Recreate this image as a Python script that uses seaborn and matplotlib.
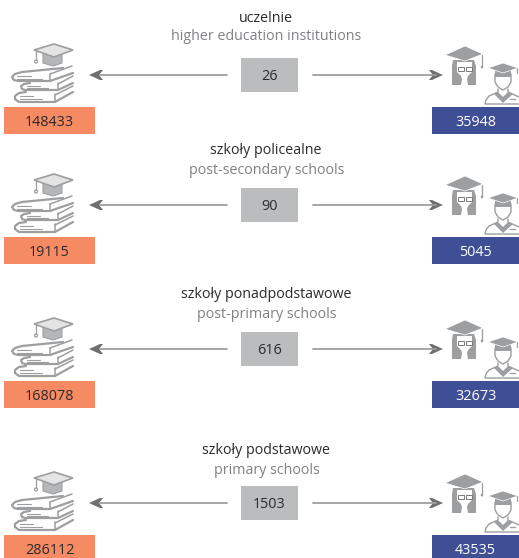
import matplotlib
matplotlib.use("Agg")
import matplotlib.pyplot as plt
from matplotlib.patches import Rectangle, Polygon, Ellipse
import pandas as pd
import seaborn as sns

# values
names_pl = ["uczelnie", "szkoły policealne", "szkoły ponadpodstawowe", "szkoły podstawowe"]
names_en = ["higher education institutions", "post-secondary schools", "post-primary schools", "primary schools"]
schools = [26, 90, 616, 1503]
students = [148433, 19115, 168078, 286112]
teachers = [35948, 5045, 32673, 43535]

# layout in pixels
row_y = [75, 205, 349, 503]
title_y = [19, 151, 295, 450]
sub_y = [37, 170, 315, 470]

ORANGE = "#f58a63"
BLUE = "#3f4f95"
BOX = "#bbbcbe"
ICON = "#9d9ea0"
ARROW = "#9d9ea0"
HEAD = "#6f7072"

sns.set_theme(style="white")
plt.rcParams["font.family"] = ["Open Sans", "DejaVu Sans"]

fig, ax = plt.subplots(figsize=(5.19, 5.58), dpi=100)
fig.subplots_adjust(0, 0, 1, 1)
ax.set_xlim(0, 519)
ax.set_ylim(558, 0)
ax.axis("off")


def shape(pts, y0, **kw):
    ax.add_patch(Polygon([(x, y + y0) for x, y in pts], **kw))


def path(pts, y0, lw=1.6):
    ax.plot([p[0] for p in pts], [p[1] + y0 for p in pts], color=ICON, lw=lw,
            solid_capstyle="round", solid_joinstyle="round")


def books(y0):
    shape([(43, 53), (62, 53), (62, 63), (53, 66), (43, 63)], y0, fc="#b5b6b8", ec=ICON, lw=0.8)
    shape([(34, 50), (54, 44), (73, 50), (54, 57)], y0, fc="#e4e4e5", ec=ICON, lw=1.2)
    path([(36, 51), (36, 60)], y0, 0.9)
    ax.add_patch(Ellipse((36, 61.5 + y0), 3, 3, fc="white", ec=ICON, lw=0.9))
    # top book
    path([(63, 68), (22, 72), (15, 74), (12, 77), (14, 80), (18, 81), (50, 81), (73, 73)], y0)
    path([(50, 74), (50, 81)], y0, 1.1)
    path([(50, 74), (72, 66)], y0, 1.1)
    path([(17, 76), (31, 76)], y0, 0.8)
    path([(17, 79), (42, 79)], y0, 0.8)
    # middle book
    path([(58, 84), (73, 76)], y0, 1.1)
    path([(30, 83), (24, 84), (21, 86), (22, 89), (25, 90), (58, 90), (73, 83)], y0)
    path([(58, 83), (58, 90)], y0, 1.1)
    path([(27, 86), (40, 86)], y0, 0.8)
    path([(27, 88), (48, 88)], y0, 0.8)
    # bottom book
    path([(55, 95), (73, 86)], y0, 1.1)
    path([(26, 92), (19, 93), (15, 96), (15, 99), (19, 102), (55, 102), (73, 92)], y0)
    path([(55, 94), (55, 102)], y0, 1.1)
    path([(20, 96), (33, 96)], y0, 0.8)
    path([(20, 99), (42, 99)], y0, 0.8)


def people(y0):
    # woman
    shape([(453, 60), (474, 60), (476, 66), (476, 85), (452, 85), (452, 66)], y0, fc=ICON, ec="none")
    shape([(457, 62), (472, 62), (472, 72), (468, 76), (467, 79), (468, 85), (461, 85),
           (462, 79), (461, 76), (457, 72)], y0, fc="white", ec="none")
    shape([(445, 55), (465, 46), (483, 54), (465, 61)], y0, fc=ICON, ec="white", lw=0.5)
    path([(482, 55), (482, 66)], y0, 0.9)
    ax.add_patch(Ellipse((482, 67 + y0), 2.5, 3, fc=ICON, ec="none"))
    ax.add_patch(Rectangle((458, 67 + y0), 6, 4, fc="white", ec="#77787a", lw=0.7))
    ax.add_patch(Rectangle((466, 67 + y0), 6, 4, fc="white", ec="#77787a", lw=0.7))
    # man
    path([(495, 74), (495, 82), (498, 87), (503, 90), (508, 87), (511, 82), (511, 74)], y0, 1.0)
    shape([(495, 70), (511, 70), (511, 77), (495, 77)], y0, fc=ICON, ec="none")
    shape([(488, 68), (503, 63), (518, 68), (503, 73)], y0, fc=ICON, ec="white", lw=0.5)
    path([(517, 68), (517, 73)], y0, 0.9)
    path([(498, 89), (498, 92), (489, 96), (486, 100), (485, 104), (519, 104)], y0, 1.0)
    path([(508, 89), (508, 92), (519, 97)], y0, 1.0)
    shape([(494, 94), (498, 92), (503, 97), (508, 92), (513, 94), (503, 103)], y0, fc=ICON, ec="none")
    path([(510, 99), (515, 99)], y0, 1.0)


for i, y in enumerate(row_y):
    off = y - 75
    ax.text(266, title_y[i], names_pl[i], ha="center", va="center", fontsize=10.3, color="#2b2b2b")
    ax.text(266.5, sub_y[i], names_en[i], ha="center", va="center", fontsize=10.3, color="#808184")

    ax.add_patch(Rectangle((241, y - 17), 57, 34, fc=BOX, ec="none"))
    ax.text(269.5, y + 1, str(schools[i]), ha="center", va="center", fontsize=10.4, color="#2b2b2b")

    ax.add_patch(Rectangle((4, y + 32), 91, 27, fc=ORANGE, ec="none"))
    ax.text(49.5, y + 47, str(students[i]), ha="center", va="center", fontsize=10.4, color="#2b2b2b")
    ax.add_patch(Rectangle((432, y + 32), 87, 27, fc=BLUE, ec="none"))
    ax.text(475.5, y + 47, str(teachers[i]), ha="center", va="center", fontsize=10.4, color="white")

    # connecting lines
    lines = pd.DataFrame({"x": [100, 227], "y": [y, y]})
    sns.lineplot(data=lines, x="x", y="y", color=ARROW, lw=1.3, ax=ax, legend=False)
    lines = pd.DataFrame({"x": [313, 436], "y": [y, y]})
    sns.lineplot(data=lines, x="x", y="y", color=ARROW, lw=1.3, ax=ax, legend=False)
    shape([(89, y), (100, y - 5), (103, y - 5), (99, y), (103, y + 5), (100, y + 5)], 0, fc=HEAD, ec="none")
    shape([(443, y), (432, y - 5), (429, y - 5), (433, y), (429, y + 5), (432, y + 5)], 0, fc=HEAD, ec="none")

    books(off)
    people(off)

ax.set_xlim(0, 519)
ax.set_ylim(558, 0)
ax.axis("off")
fig.savefig("out.png", dpi=100)
